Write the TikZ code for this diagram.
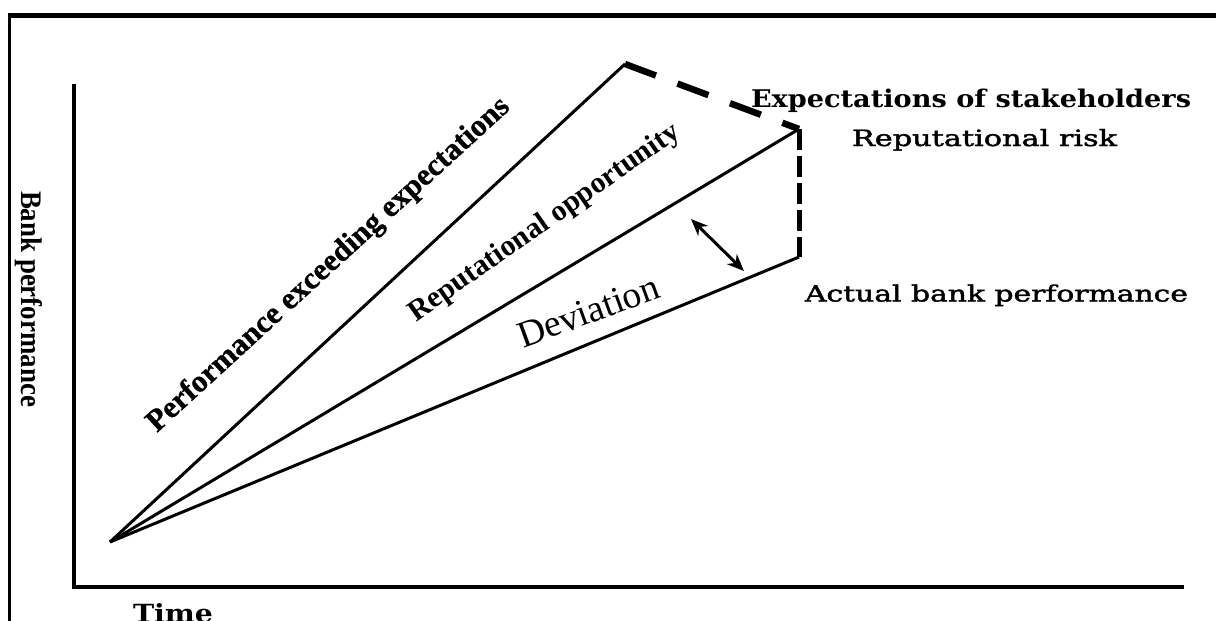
\documentclass[tikz,border=0pt]{standalone}
\usepackage{fontspec}
\usepackage{graphicx}
\setmainfont{Liberation Serif}[BoldFont={Liberation Serif Bold}]
\newfontfamily\slabfont{DejaVu Serif}[BoldFont={DejaVu Serif Bold}]
\newfontfamily\slabmed{DejaVu Serif}[FakeBold=1.6]
\newfontfamily\timesheavy{Liberation Serif Bold}[FakeBold=0.8]
\usetikzlibrary{arrows.meta}
% box of given width and height (above baseline) holding a text
\newcommand{\fitto}[3]{\resizebox{#1}{#2}{#3}}

\begin{document}
\begin{tikzpicture}[x=1pt,y=-1pt,
  txt/.style={inner sep=0pt, outer sep=0pt, anchor=base west},
  ray/.style={line width=3pt},
  gapline/.style={line width=6.5pt, dash pattern=on 33pt off 23pt},
  riskline/.style={line width=5pt, dash pattern=on 21pt off 6pt},
  axis/.style={line width=4pt, line join=miter},
  gaparrow/.style={line width=3pt,
    {Stealth[length=17pt,width=14pt]}-{Stealth[length=17pt,width=14pt]}}]
\useasboundingbox (0,0) rectangle (1216,621);

% outer frame (top and left edges)
\draw[line width=5pt] (8,15.5) -- (1216,15.5);
\draw[line width=3pt] (9.5,13) -- (9.5,621);

% axes
\draw[axis] (74,84) -- (74,587) -- (1184,587);

% common origin and the end points of the three rays
\coordinate (O) at (110,542);
\coordinate (Etop) at (625,64);
\coordinate (Emid) at (799,129);
\coordinate (Eact) at (799,257);

\draw[ray] (O) -- (Etop);
\draw[ray] (O) -- (Emid);
\draw[ray] (O) -- (Eact);

% gap lines
\draw[gapline] (Etop) -- (Emid);
\draw[riskline] (Emid) -- (Eact);

% deviation arrow
\coordinate (dA) at (691,219);
\coordinate (dB) at (744,271);
\draw[gaparrow] (dA) -- (dB);

% labels on the right
\node[txt] (explbl) at (751,107)
  {\fitto{440pt}{18.5pt}{\slabfont\bfseries Expectations of stakeholders}};
\node[txt] (risklbl) at (852,146)
  {\fitto{265pt}{17pt}{\slabmed Reputational risk}};
\node[txt] (actlbl) at (805,301.5)
  {\fitto{383pt}{17pt}{\slabmed Actual bank performance}};

% labels along the rays
\node[txt, rotate=42.5] (perflbl) at (157,433)
  {\resizebox{480pt}{!}{\timesheavy Performance exceeding expectations}};
\node[txt, rotate=35] (opplbl) at (416,322)
  {\resizebox{324pt}{!}{\bfseries Reputational opportunity}};
\node[txt, rotate=20] (devlbl) at (523,348)
  {\resizebox{148pt}{!}{Deviation}};

% axis titles
\node[txt, rotate=-90] (ylbl) at (22,191)
  {\fitto{216pt}{21pt}{\bfseries Bank performance}};
\node[txt] (xlbl) at (133,622)
  {\fitto{80pt}{19pt}{\slabfont\bfseries Time}};
\end{tikzpicture}
\end{document}
